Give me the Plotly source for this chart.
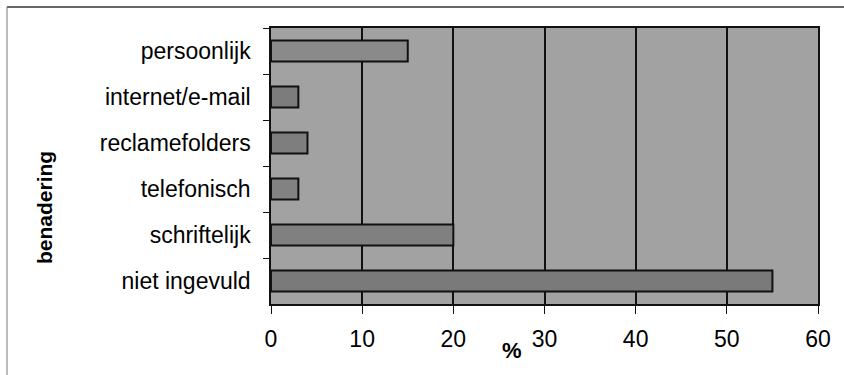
import plotly.graph_objects as go

# Contact methods (top to bottom) and share of respondents in %
categories = ["persoonlijk", "internet/e-mail", "reclamefolders",
              "telefonisch", "schriftelijk", "niet ingevuld"]
values = [15, 3, 4, 3, 20, 55]
x_ticks = [0, 10, 20, 30, 40, 50, 60]

bar_fill = ["#8a8a8a", "#7c7c7c", "#7e7e7e", "#828282", "#808080", "#7a7a7a"]

# plot area in pixels
L, R, T, B = 271, 818, 28, 304
W, H = 844, 375
pw, ph = R - L, B - T


def px_x(x):
    return (x - L) / pw


def px_y(y):
    return (B - y) / ph


fig = go.Figure()
fig.add_trace(go.Bar(
    x=values,
    y=categories,
    orientation="h",
    marker=dict(color=bar_fill, line=dict(color="#111111", width=2)),
    hoverinfo="x+y",
))

font_family = "Liberation Sans, Arial, sans-serif"

fig.update_layout(
    width=W,
    height=H,
    margin=dict(l=L, r=W - R, t=T, b=H - B),
    paper_bgcolor="white",
    plot_bgcolor="#a2a2a2",
    bargap=0.54,
    showlegend=False,
    font=dict(family=font_family, color="black"),
    xaxis=dict(
        range=[0, 60],
        tickvals=x_ticks,
        ticktext=[str(v) for v in x_ticks],
        tickfont=dict(size=23, color="black"),
        ticks="outside",
        ticklen=8,
        tickcolor="#111111",
        showgrid=True,
        gridcolor="#111111",
        gridwidth=2,
        showline=True,
        linecolor="#111111",
        linewidth=1.5,
        mirror=True,
        zeroline=False,
        ticklabelstandoff=6,
    ),
    yaxis=dict(
        categoryorder="array",
        categoryarray=categories,
        autorange="reversed",
        tickfont=dict(size=23, color="black"),
        ticks="outside",
        tickson="boundaries",
        ticklen=6,
        tickcolor="#111111",
        showgrid=False,
        showline=True,
        linecolor="#111111",
        linewidth=1.5,
        mirror=True,
        ticklabelstandoff=14,
    ),
)

# y-axis title
fig.add_annotation(
    text="<b>benadering</b>", x=px_x(44), y=px_y(208),
    xref="paper", yref="paper", showarrow=False, textangle=-90,
    font=dict(size=21, color="black"), xanchor="center", yanchor="middle",
)

# x-axis unit label, set slightly left of the 30 tick
fig.add_annotation(
    text="<b>%</b>", x=px_x(512), y=px_y(350),
    xref="paper", yref="paper", showarrow=False,
    font=dict(size=22, color="black"), xanchor="center", yanchor="middle",
)

# frame lines along the top and left of the chart
fig.add_shape(
    type="line", xref="paper", yref="paper",
    x0=px_x(7), x1=px_x(844), y0=px_y(7), y1=px_y(7),
    line=dict(color="#333333", width=1.5),
)
fig.add_shape(
    type="line", xref="paper", yref="paper",
    x0=px_x(7), x1=px_x(7), y0=px_y(7), y1=px_y(375),
    line=dict(color="#777777", width=1),
)

fig.write_html("out.html")
